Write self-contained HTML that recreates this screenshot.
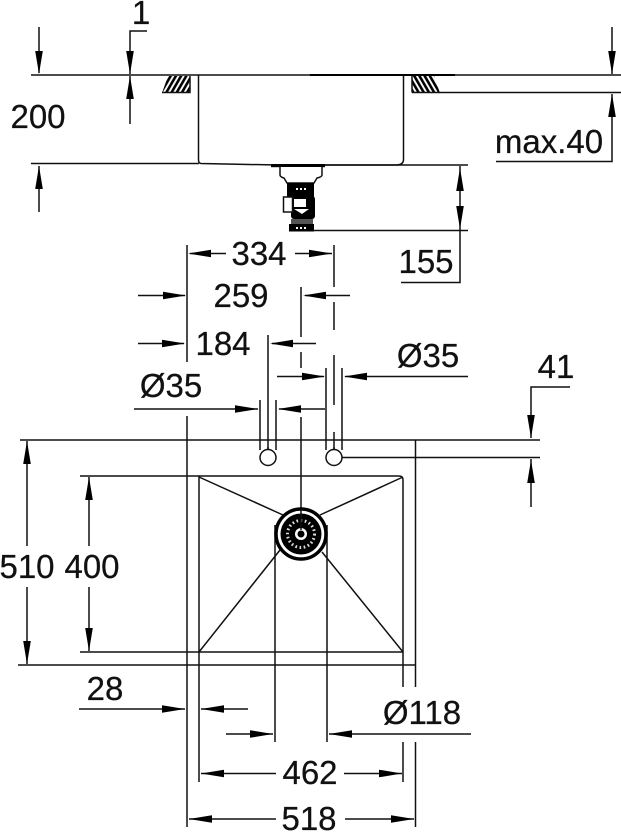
<!DOCTYPE html>
<html><head><meta charset="utf-8"><style>
html,body{margin:0;padding:0;background:#fff}
svg{display:block}
text{font-family:"Liberation Sans",sans-serif;font-size:33px;fill:#111;stroke:#111;stroke-width:.25;text-anchor:middle}
</style></head><body>
<svg width="621" height="832" viewBox="0 0 621 832" xmlns="http://www.w3.org/2000/svg">
<defs>
<polygon id="a" points="0,0 -23,-3.8 -23,3.800" fill="#000"/>
<pattern id="hl" width="4.500" height="5" patternUnits="userSpaceOnUse" patternTransform="rotate(30)"><rect width="2.600" height="5" fill="#000"/></pattern>
<pattern id="hr" width="4.500" height="5" patternUnits="userSpaceOnUse" patternTransform="rotate(-30)"><rect width="2.600" height="5" fill="#000"/></pattern>
</defs>
<polygon points="168,76 190,76 190,93 162,93" fill="url(#hl)"/>
<polygon points="412,76 434,76 440,93 412,93" fill="url(#hr)"/>
<g fill="none" stroke="#111" stroke-width="1.500">
<!-- top section -->
<path d="M31 75H621M31 163.500H199M412 92.500H621M310 165H468M302 230.500H468"/>
<path d="M39 27V73M39 166V212M130 74V31H147M130 76V124"/>
<path d="M198.500 75V160Q198.500 163 201 163.500L277 165H396Q403 165 403.500 160V75"/>
<path d="M612 27V74M612 94V161.500H496M460 166V282.500H401"/>
<path d="M162 92.500H190V76M412 76V92.500"/>
<!-- vertical extension lines -->
<path d="M187 245V362M187 416V827M334 245V287M334 302V330M334 355V405M334 432V450"/>
<path d="M301 287V337M301 352V368M301 417V534"/>
<path d="M268 335V450M326 368V450M342 368V450M260 400V450M276 400V450"/>
<!-- dims upper -->
<path d="M190 253.500H226M295 253.500H332M138 295.500H185M305 295.500H350M138 343.500H184M272 343.500H316M277 376.500H324M345 376.500H468M134 409H258M279 409H325"/>
<!-- plate -->
<path d="M20 440H540M342 457.500H540M415.500 440V687M415.500 742V827M80 476H399Q403 476 403 480V687M403 742V782M199 476V782M18 665H415.500M80 652H403"/>
<path d="M199 477L283 515M403 477L320 515M199 652L280 550M403 652L322 552"/>
<path d="M275 525V742M327 525V742"/>
<circle cx="268" cy="457.500" r="8" fill="#fff"/><circle cx="334" cy="457.500" r="8" fill="#fff"/>
<path d="M268 447V450M334 447V450"/>
<!-- left dims -->
<path d="M27 441V546M27 587V664M89 477V546M89 587V651"/>
<!-- lower dims -->
<path d="M79 709H185M201 709H248M226 734H273M329 734H471M201 773.500H276M344 773.500H402M189 819H276M345 819H414"/>
<!-- 41 -->
<path d="M570 387H531V438M531 459V507"/>
</g>
<path d="M310 75H455" stroke="#000" stroke-width="2"/>
<!-- arrowheads -->
<use href="#a" transform="translate(39,74) rotate(90)"/>
<use href="#a" transform="translate(39,166) rotate(-90)"/>
<use href="#a" transform="translate(130,74) rotate(90)"/>
<use href="#a" transform="translate(130,76) rotate(-90)"/>
<use href="#a" transform="translate(612,74) rotate(90)"/>
<use href="#a" transform="translate(612,94) rotate(-90)"/>
<use href="#a" transform="translate(460,168) rotate(-90)"/>
<use href="#a" transform="translate(460,229) rotate(90)"/>
<use href="#a" transform="translate(188,253.500) rotate(180)"/>
<use href="#a" transform="translate(332,253.500)"/>
<use href="#a" transform="translate(186,295.500)"/>
<use href="#a" transform="translate(303,295.500) rotate(180)"/>
<use href="#a" transform="translate(185,343.500)"/>
<use href="#a" transform="translate(270,343.500) rotate(180)"/>
<use href="#a" transform="translate(325,376.500)"/>
<use href="#a" transform="translate(344,376.500) rotate(180)"/>
<use href="#a" transform="translate(258,409)"/>
<use href="#a" transform="translate(278,409) rotate(180)"/>
<use href="#a" transform="translate(531,438) rotate(90)"/>
<use href="#a" transform="translate(531,460) rotate(-90)"/>
<use href="#a" transform="translate(27,441) rotate(-90)"/>
<use href="#a" transform="translate(27,664) rotate(90)"/>
<use href="#a" transform="translate(89,477) rotate(-90)"/>
<use href="#a" transform="translate(89,651) rotate(90)"/>
<use href="#a" transform="translate(185,709)"/>
<use href="#a" transform="translate(201,709) rotate(180)"/>
<use href="#a" transform="translate(273,734)"/>
<use href="#a" transform="translate(329,734) rotate(180)"/>
<use href="#a" transform="translate(201,773.500) rotate(180)"/>
<use href="#a" transform="translate(402,773.500)"/>
<use href="#a" transform="translate(189,819) rotate(180)"/>
<use href="#a" transform="translate(414,819)"/>
<!-- drain fitting side view -->
<g>
<rect x="271" y="164" width="54" height="3.200" fill="#000"/>
<path d="M280 167V175Q280 177 284 178L287 183H314L317 178Q322 177 322 175V167" fill="#fff" stroke="#111" stroke-width="1.500"/>
<rect x="287" y="183" width="27" height="14" fill="#000"/>
<path d="M296 189h2M300 189h2M304 189h2" stroke="#fff" stroke-width="2"/>
<rect x="291" y="196" width="24" height="23" rx="3" fill="#000"/>
<rect x="283.500" y="197" width="9" height="15" fill="#fff" stroke="#111" stroke-width="1.500"/>
<path d="M294 199H306V207H294Z" fill="#fff"/>
<path d="M294 209H309L302 214Z" fill="#fff"/>
<rect x="291" y="219" width="22" height="5" fill="#555"/>
<rect x="289" y="224" width="25" height="7.500" fill="#000"/>
<path d="M296 228h2M300 228h2M304 228h2" stroke="#fff" stroke-width="2"/>
</g>
<!-- drain plan -->
<circle cx="301" cy="534" r="25" fill="#fff" stroke="#000" stroke-width="3.500"/>
<circle cx="301" cy="534" r="20.500" fill="#000"/>
<circle cx="301" cy="534" r="13.500" fill="none" stroke="#ddd" stroke-width="3" stroke-dasharray="1.600 2.600"/>
<circle cx="301" cy="534" r="6" fill="#fff"/>
<circle cx="301" cy="534" r="3.500" fill="#000"/>
<path d="M301 509V530" stroke="#111" stroke-width="1.500"/>
<!-- labels -->
<text x="38" y="128">200</text>
<text x="141" y="24">1</text>
<text x="549" y="153">max.40</text>
<text x="426" y="273">155</text>
<text x="259" y="265">334</text>
<text x="241" y="307">259</text>
<text x="223" y="355">184</text>
<text x="428" y="367">Ø35</text>
<text x="171" y="397">Ø35</text>
<text x="556" y="378">41</text>
<text x="27" y="578">510</text>
<text x="92" y="578">400</text>
<text x="105" y="700">28</text>
<text x="422" y="724">Ø118</text>
<text x="310" y="784">462</text>
<text x="309" y="830">518</text>
</svg>
</body></html>
